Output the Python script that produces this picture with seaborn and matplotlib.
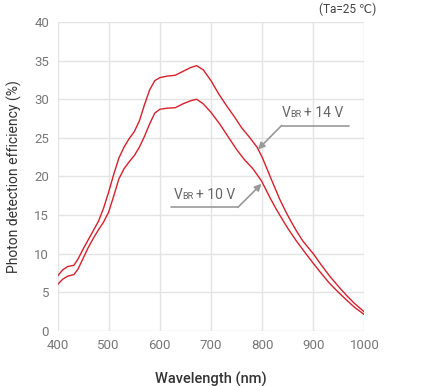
import numpy as np
import pandas as pd
import matplotlib
matplotlib.use("Agg")
import matplotlib.pyplot as plt
import seaborn as sns

# wavelength (nm) and photon detection efficiency (%)
wl_14v = [400, 410, 420, 432, 440, 450, 460, 470, 480, 490, 500, 510, 520, 530,
          540, 550, 560, 570, 580, 590, 600, 615, 630, 645, 660, 672, 685, 700,
          715, 730, 745, 760, 775, 790, 800, 810, 820, 834, 845, 855, 867, 880,
          890, 900, 915, 932, 950, 965, 980, 1000]
pde_14v = [7.1, 7.9, 8.35, 8.5, 9.3, 10.6, 11.8, 13.0, 14.2, 15.9, 18.0, 20.3,
           22.4, 23.8, 24.9, 25.8, 27.2, 29.3, 31.2, 32.4, 32.8, 33.0, 33.1,
           33.6, 34.1, 34.35, 33.8, 32.4, 30.7, 29.2, 27.8, 26.3, 25.1, 23.8,
           22.5, 20.9, 19.3, 17.1, 15.6, 14.35, 12.95, 11.6, 10.8, 10.0, 8.6,
           7.1, 5.7, 4.6, 3.6, 2.45]

wl_10v = [400, 410, 420, 432, 440, 450, 460, 470, 480, 490, 500, 510, 520, 530,
          540, 550, 560, 570, 580, 590, 600, 615, 630, 645, 660, 672, 685, 700,
          717, 730, 750, 765, 782, 799, 815, 826, 838, 850, 867, 885, 900, 915,
          932, 950, 965, 980, 1000]
pde_10v = [6.0, 6.7, 7.1, 7.3, 8.0, 9.4, 10.8, 12.0, 13.1, 14.1, 15.4, 17.5,
           19.7, 21.0, 21.9, 22.7, 23.8, 25.2, 26.8, 28.2, 28.7, 28.85, 28.9,
           29.4, 29.8, 30.0, 29.4, 28.3, 26.8, 25.5, 23.5, 22.2, 21.0, 19.4,
           17.3, 15.95, 14.6, 13.3, 11.65, 10.05, 8.75, 7.5, 6.15, 4.95, 4.0,
           3.1, 2.1]

x_ticks = [400, 500, 600, 700, 800, 900, 1000]
y_ticks = [0, 5, 10, 15, 20, 25, 30, 35, 40]

df = pd.concat([
    pd.DataFrame({"wl": wl_14v, "pde": pde_14v, "bias": "14V"}),
    pd.DataFrame({"wl": wl_10v, "pde": pde_10v, "bias": "10V"}),
])

sns.set_theme(style="whitegrid")
plt.rcParams['font.family'] = ['Roboto', 'DejaVu Sans']

red = "#d6202c"
fig = plt.figure(figsize=(4.22, 3.86), dpi=100)
ax = fig.add_axes([0.1363, 0.1425, 0.8637 - 0.1363, 0.943 - 0.1425])

sns.lineplot(data=df, x="wl", y="pde", units="bias", estimator=None,
             color=red, linewidth=1.0, ax=ax, legend=False)

ax.set_xlim(400, 1000)
ax.set_ylim(0, 40)
ax.set_xticks(x_ticks)
ax.set_yticks(y_ticks)
ax.grid(True, color="#e4e4e4", linewidth=1.0)
for s in ax.spines.values():
    s.set_visible(False)
ax.tick_params(length=0, labelsize=9.5, labelcolor="#777777", pad=6)

ax.set_xlabel("Wavelength (nm)", fontsize=10.5, color="#333333",
              fontweight="medium", labelpad=14)
ax.set_ylabel("Photon detection efficiency (%)", fontsize=10, color="#333333",
              labelpad=9)

fig.text(0.891, 0.993, "(Ta=25 ℃)", ha="right", va="top", fontsize=8.5,
         color="#444444")


def vbr_label(x, y, rest):
    # "V" + small "BR" + rest, laid out left to right on one baseline
    kw = dict(xycoords="data", textcoords="offset pixels", va="baseline",
              ha="left", color="#666666")
    ax.annotate("V", (x, y), xytext=(0, 0), fontsize=10, **kw)
    ax.annotate("BR", (x, y), xytext=(8.5, 0), fontsize=6.5, **kw)
    ax.annotate(rest, (x, y), xytext=(22, 0), fontsize=10, **kw)


gray = "#999999"
# VBR + 14 V label
vbr_label(839, 27.75, "+ 14 V")
ax.plot([969, 838], [26.6, 26.6], color=gray, lw=1.2)
ax.annotate("", xy=(791.6, 23.5), xytext=(838, 26.6),
            arrowprops=dict(arrowstyle="-|>", color=gray, lw=1.2,
                            shrinkA=0, shrinkB=0, mutation_scale=10))
# VBR + 10 V label
vbr_label(628, 17.1, "+ 10 V")
ax.plot([621.7, 752.5], [16.0, 16.0], color=gray, lw=1.2)
ax.annotate("", xy=(798.8, 19.05), xytext=(752.5, 16.0),
            arrowprops=dict(arrowstyle="-|>", color=gray, lw=1.2,
                            shrinkA=0, shrinkB=0, mutation_scale=10))

fig.savefig("out.png", dpi=100)
